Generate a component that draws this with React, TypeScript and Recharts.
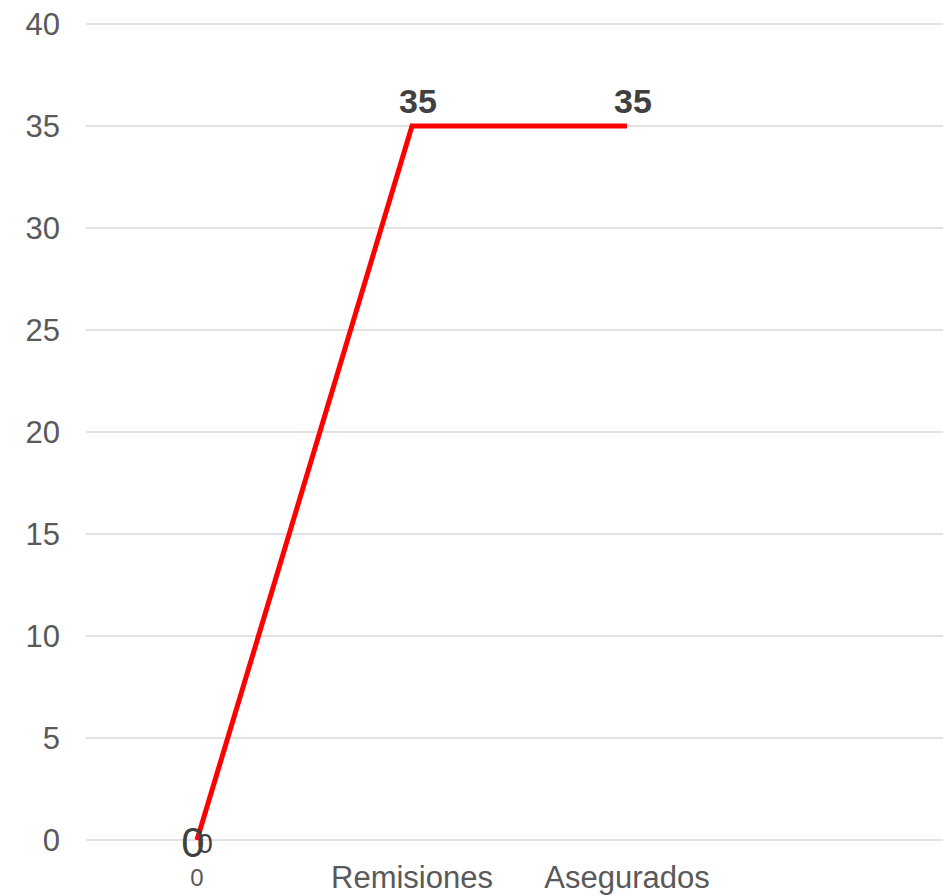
import { CartesianGrid, LabelList, Line, LineChart, XAxis, YAxis } from "recharts"

const categories = ["0", "Remisiones", "Asegurados", ""]
const values: (number | null)[] = [0, 35, 35, null]
const yTicks = [0, 5, 10, 15, 20, 25, 30, 35, 40]

const data = categories.map((name, i) => ({ name, value: values[i] }))

const FONT = "'Liberation Sans', Arial, sans-serif"

function CategoryTick(props: any) {
  const { x, y, payload } = props
  const small = payload.value === "0"
  return (
    <text
      x={x}
      y={y + (small ? 46 : 48)}
      textAnchor="middle"
      fill="#595959"
      fontSize={small ? 24 : 31}
      fontFamily={FONT}
    >
      {payload.value}
    </text>
  )
}

function ValueLabel(props: any) {
  const { x, y, value, index } = props
  if (value == null) return null
  if (index === 0) {
    // the first point shows two overlapping zeros
    return (
      <g fill="#404040" fontFamily={FONT}>
        <text x={x - 4} y={y + 17} textAnchor="middle" fontSize={42}>
          {value}
        </text>
        <text x={x + 8} y={y + 13} textAnchor="middle" fontSize={28}>
          {value}
        </text>
      </g>
    )
  }
  return (
    <text
      x={x + 6}
      y={y - 13}
      textAnchor="middle"
      fill="#404040"
      fontSize={34}
      fontWeight="bold"
      fontFamily={FONT}
    >
      {value}
    </text>
  )
}

export default function App() {
  return (
    <div
      style={{
        position: "fixed",
        top: 0,
        left: 0,
        width: 943,
        height: 896,
        overflow: "hidden",
        background: "#fff",
      }}
    >
      <LineChart
        width={949}
        height={896}
        data={data}
        margin={{ top: 24, right: 0, bottom: 0, left: 0 }}
      >
        <CartesianGrid stroke="#d9d9d9" strokeWidth={1.5} vertical={false} />
        <XAxis
          dataKey="name"
          axisLine={false}
          tickLine={false}
          tickSize={0}
          tickMargin={0}
          height={56}
          padding={{ left: 111, right: 107 }}
          interval={0}
          tick={<CategoryTick />}
        />
        <YAxis
          domain={[0, 40]}
          ticks={yTicks}
          width={86}
          axisLine={false}
          tickLine={false}
          tickSize={0}
          tickMargin={26}
          tick={{ fill: "#595959", fontSize: 31, fontFamily: FONT }}
        />
        <Line
          type="linear"
          dataKey="value"
          stroke="#ff0000"
          strokeWidth={5}
          dot={false}
          activeDot={false}
          connectNulls={false}
          isAnimationActive={false}
        >
          <LabelList dataKey="value" content={<ValueLabel />} />
        </Line>
      </LineChart>
    </div>
  )
}
